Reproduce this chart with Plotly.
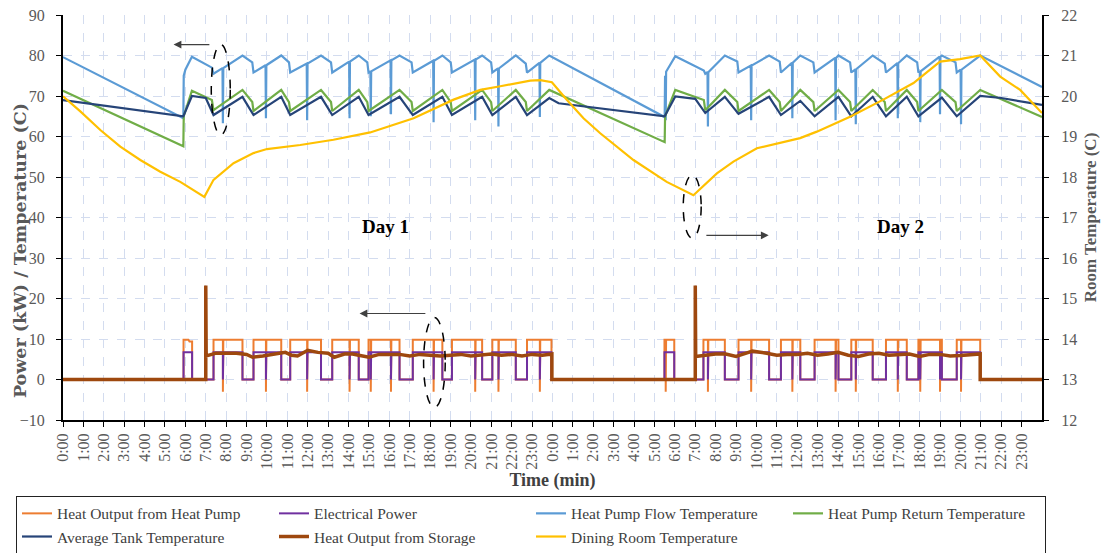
import plotly.graph_objects as go

# ---------------- data (hours since start of day 1, values) ----------------
HOUR_LABELS = ["0:00", "1:00", "2:00", "3:00", "4:00", "5:00", "6:00", "7:00",
               "8:00", "9:00", "10:00", "11:00", "12:00", "13:00", "14:00", "15:00",
               "16:00", "17:00", "18:00", "19:00", "20:00", "21:00", "22:00", "23:00"]
TICK_HOURS = list(range(48))
TICK_TEXT = HOUR_LABELS + HOUR_LABELS

HEAT_OUTPUT_HP = [
    (0, 0), (5.91, 0), (5.91, 9.8), (6.15, 9.8), (6.2, 9.4), (6.33, 9.4), (6.33, 0),
    (7.38, 0), (7.38, 9.8), (7.84, 9.8), (7.84, -3), (7.86, 9.8), (8.8, 9.8), (8.8, 0),
    (9.34, 0), (9.34, 9.8), (9.95, 9.8), (9.95, -3), (9.97, 9.8), (10.7, 9.8), (10.7, 0),
    (11.14, 0), (11.14, 9.8), (11.97, 9.8), (11.97, -3), (11.99, 9.8), (12.65, 9.8), (12.65, 0),
    (13.2, 0), (13.2, 9.8), (14.05, 9.8), (14.05, -3), (14.07, 9.8), (14.5, 9.8), (14.5, 0),
    (14.98, 0), (14.98, 9.8), (15.09, 9.8), (15.09, -3), (15.11, 9.8), (16.08, 9.8), (16.08, -3),
    (16.10, 9.8), (16.5, 9.8), (16.5, 0), (17.15, 0), (17.15, 9.8), (18.17, 9.8), (18.17, -3),
    (18.19, 9.8), (18.6, 9.8), (18.6, 0), (19.07, 0), (19.07, 9.8), (20.21, 9.8), (20.21, -3),
    (20.23, 9.8), (20.55, 9.8), (20.55, 0), (21.05, 0), (21.05, 9.8), (21.35, 9.8), (21.35, -3),
    (21.37, 9.8), (22.2, 9.8), (22.2, 0), (22.75, 0), (22.75, 9.8), (23.38, 9.8), (23.38, -3),
    (23.40, 9.8), (23.95, 9.8), (23.95, 0),
    (29.49, 0), (29.49, 9.8), (29.55, 9.8), (29.55, -3), (29.57, 9.8), (29.97, 9.8), (29.97, 0),
    (31.4, 0), (31.4, 9.8), (31.62, 9.8), (31.62, -3), (31.64, 9.8), (32.45, 9.8), (32.45, 0),
    (33.12, 0), (33.12, 9.8), (33.74, 9.8), (33.74, -3), (33.76, 9.8), (34.62, 9.8), (34.62, 0),
    (35.2, 0), (35.2, 9.8), (35.76, 9.8), (35.76, -3), (35.78, 9.8), (36.15, 9.8), (36.15, 0),
    (36.85, 0), (36.85, 9.8), (37.88, 9.8), (37.88, -3), (37.90, 9.8), (38.02, 9.8), (38.02, 0),
    (38.65, 0), (38.65, 9.8), (38.87, 9.8), (38.87, -3), (38.89, 9.8), (39.7, 9.8), (39.7, 0),
    (40.35, 0), (40.35, 9.8), (40.93, 9.8), (40.93, -3), (40.95, 9.8), (41.37, 9.8), (41.37, 0),
    (41.94, 0), (41.94, 9.8), (42.03, 9.8), (42.03, -3), (42.05, 9.8), (43.0, 9.8), (43.0, -3),
    (43.02, 9.8), (43.09, 9.8), (43.09, 0), (43.82, 0), (43.82, 9.8), (44.03, 9.8), (44.03, -3),
    (44.05, 9.8), (44.97, 9.8), (44.97, 0), (48, 0)]

ELECTRICAL_POWER = [
    (0, 0), (5.91, 0), (5.91, 6.7), (6.33, 6.7), (6.33, 0),
    (7.38, 0), (7.38, 6.7), (7.84, 6.7), (7.84, 0), (7.86, 6.7), (8.8, 6.7), (8.8, 0),
    (9.34, 0), (9.34, 6.7), (9.95, 6.7), (9.95, 0), (9.97, 6.7), (10.7, 6.7), (10.7, 0),
    (11.14, 0), (11.14, 6.7), (11.97, 6.7), (11.97, 0), (11.99, 6.7), (12.65, 6.7), (12.65, 0),
    (13.2, 0), (13.2, 6.7), (14.05, 6.7), (14.05, 0), (14.07, 6.7), (14.5, 6.7), (14.5, 0),
    (14.98, 0), (14.98, 6.7), (15.09, 6.7), (15.09, 0), (15.11, 6.7), (16.08, 6.7), (16.08, 0),
    (16.10, 6.7), (16.5, 6.7), (16.5, 0), (17.15, 0), (17.15, 6.7), (18.17, 6.7), (18.17, 0),
    (18.19, 6.7), (18.6, 6.7), (18.6, 0), (19.07, 0), (19.07, 6.7), (20.21, 6.7), (20.21, 0),
    (20.23, 6.7), (20.55, 6.7), (20.55, 0), (21.05, 0), (21.05, 6.7), (21.35, 6.7), (21.35, 0),
    (21.37, 6.7), (22.2, 6.7), (22.2, 0), (22.75, 0), (22.75, 6.7), (23.38, 6.7), (23.38, 0),
    (23.40, 6.7), (23.95, 6.7), (23.95, 0),
    (29.49, 0), (29.49, 6.7), (29.97, 6.7), (29.97, 0),
    (31.4, 0), (31.4, 6.7), (31.62, 6.7), (31.62, 0), (31.64, 6.7), (32.45, 6.7), (32.45, 0),
    (33.12, 0), (33.12, 6.7), (33.74, 6.7), (33.74, 0), (33.76, 6.7), (34.62, 6.7), (34.62, 0),
    (35.2, 0), (35.2, 6.7), (35.76, 6.7), (35.76, 0), (35.78, 6.7), (36.15, 6.7), (36.15, 0),
    (36.85, 0), (36.85, 6.7), (37.88, 6.7), (37.88, 0), (37.90, 6.7), (38.02, 6.7), (38.02, 0),
    (38.65, 0), (38.65, 6.7), (38.87, 6.7), (38.87, 0), (38.89, 6.7), (39.7, 6.7), (39.7, 0),
    (40.35, 0), (40.35, 6.7), (40.93, 6.7), (40.93, 0), (40.95, 6.7), (41.37, 6.7), (41.37, 0),
    (41.94, 0), (41.94, 6.7), (42.03, 6.7), (42.03, 0), (42.05, 6.7), (43.0, 6.7), (43.0, 0),
    (43.02, 6.7), (43.09, 6.7), (43.09, 0), (43.82, 0), (43.82, 6.7), (44.03, 6.7), (44.03, 0),
    (44.05, 6.7), (44.97, 6.7), (44.97, 0), (48, 0)]

FLOW_TEMP = [
    (0, 79.6), (5.9, 64.5), (5.92, 75.0), (6.0, 76.5), (6.32, 79.7), (7.3, 77.0), (7.38, 75.5),
    (7.82, 76.9), (7.84, 63.3), (7.86, 76.9), (8.8, 80.0), (9.28, 78.3), (9.34, 75.8),
    (9.93, 77.6), (9.95, 64.5), (9.97, 77.6), (10.7, 80.0), (11.08, 78.3), (11.14, 75.8),
    (11.95, 78.0), (11.97, 64.0), (11.99, 78.0), (12.65, 80.0), (13.14, 78.3), (13.2, 75.8),
    (14.03, 78.5), (14.05, 64.5), (14.07, 78.5), (14.5, 80.0), (14.92, 78.3), (14.98, 75.8),
    (15.07, 76.1), (15.09, 65.0), (15.11, 76.1), (16.06, 78.8), (16.08, 65.5), (16.10, 78.8),
    (16.5, 80.0), (17.09, 78.3), (17.15, 75.8), (18.15, 78.7), (18.17, 63.5), (18.19, 78.7),
    (18.6, 80.0), (19.01, 78.3), (19.07, 75.8), (20.19, 79.0), (20.21, 64.0), (20.23, 79.0),
    (20.55, 80.0), (20.99, 78.3), (21.05, 75.8), (21.33, 76.8), (21.35, 62.5), (21.37, 76.8),
    (22.2, 80.0), (22.69, 78.0), (22.75, 75.8), (23.36, 78.2), (23.38, 64.8), (23.40, 78.2),
    (23.84, 80.0),
    (29.5, 64.8), (29.52, 75.0), (29.55, 64.0), (29.57, 76.0), (30.02, 79.8), (31.42, 76.3),
    (31.49, 75.5), (31.60, 75.9), (31.62, 62.5), (31.64, 75.9), (32.45, 80.0), (33.06, 78.5),
    (33.12, 75.8), (33.72, 77.5), (33.74, 64.0), (33.76, 77.5), (34.62, 80.0), (35.14, 78.5),
    (35.2, 75.8), (35.74, 78.2), (35.76, 64.5), (35.78, 78.2), (36.15, 80.0), (36.79, 78.3),
    (36.85, 75.8), (37.86, 79.4), (37.88, 64.0), (37.90, 79.4), (38.02, 80.0), (38.59, 78.3),
    (38.65, 75.8), (38.85, 76.6), (38.87, 63.0), (38.89, 76.6), (39.7, 80.0), (40.29, 78.0),
    (40.35, 75.8), (40.91, 78.1), (40.93, 64.5), (40.95, 78.1), (41.37, 80.0), (41.88, 78.3),
    (41.94, 75.8), (42.01, 76.1), (42.03, 63.5), (42.05, 76.1), (42.98, 79.7), (43.0, 65.5),
    (43.02, 79.7), (43.09, 80.0), (43.76, 78.3), (43.82, 75.8), (44.01, 76.5), (44.03, 63.0),
    (44.05, 76.5), (44.97, 80.0), (48.0, 72.2)]

RETURN_TEMP = [
    (0, 71.3), (5.9, 57.6), (5.92, 65.0), (6.32, 71.3), (7.3, 69.0), (7.38, 66.5), (8.8, 71.5),
    (9.28, 68.5), (9.34, 66.3), (10.7, 71.5), (11.08, 68.5), (11.14, 66.3), (12.65, 71.5),
    (13.14, 68.5), (13.2, 66.3), (14.5, 71.5), (14.92, 68.5), (14.98, 66.3), (16.5, 71.5),
    (17.09, 68.5), (17.15, 66.3), (18.6, 71.5), (19.01, 68.5), (19.07, 66.3), (20.55, 71.5),
    (20.99, 68.5), (21.05, 66.3), (22.2, 71.5), (22.69, 68.5), (22.75, 66.3), (23.84, 71.5),
    (29.5, 58.6), (29.52, 65.0), (30.02, 71.5), (31.42, 69.0), (31.49, 66.5), (32.45, 71.5),
    (33.06, 68.5), (33.12, 66.3), (34.62, 71.5), (35.14, 68.5), (35.2, 66.3), (36.15, 71.5),
    (36.79, 68.5), (36.85, 66.3), (38.02, 71.5), (38.59, 68.5), (38.65, 66.3), (39.7, 71.5),
    (40.29, 68.5), (40.35, 66.3), (41.37, 71.5), (41.88, 68.5), (41.94, 66.3), (43.09, 71.5),
    (43.76, 68.5), (43.82, 66.3), (44.97, 71.5), (48.0, 64.8)]

TANK_TEMP = [
    (0, 69.0), (5.9, 65.0), (6.32, 70.0), (7.0, 69.5), (7.38, 65.3), (8.8, 69.8), (9.34, 65.3),
    (10.7, 69.8), (11.14, 65.3), (12.65, 69.8), (13.2, 65.3), (14.5, 69.8), (14.98, 65.3),
    (16.5, 69.8), (17.15, 65.3), (18.6, 69.8), (19.07, 65.3), (20.55, 69.8), (21.05, 65.3),
    (22.2, 69.8), (22.75, 65.3), (23.84, 69.5), (24.3, 68.2), (29.5, 65.0), (30.02, 69.9),
    (31.0, 69.3), (31.49, 65.8), (32.45, 69.8), (33.12, 65.6), (34.62, 69.8), (35.2, 65.3),
    (36.15, 68.8), (36.85, 65.0), (38.02, 69.8), (38.65, 65.0), (39.7, 69.8), (40.35, 65.0),
    (41.37, 69.8), (41.94, 65.0), (43.09, 69.6), (43.82, 65.0), (44.97, 70.0), (46.0, 69.5),
    (48.0, 67.8)]

STORAGE_OUTPUT = [
    (0, 0), (7.0, 0), (7.0, 23.2), (7.02, 5.8), (7.5, 6.5), (8.5, 6.5), (9.0, 6.2), (9.3, 5.5),
    (9.8, 5.8), (10.5, 6.5), (10.9, 6.7), (11.2, 6.0), (11.5, 5.8), (12.0, 7.2), (12.5, 6.7),
    (13.0, 6.5), (13.3, 5.5), (13.8, 6.3), (14.2, 6.3), (14.5, 6.0), (15.0, 5.5), (15.5, 6.2),
    (16.5, 6.2), (17.0, 5.8), (17.5, 6.2), (18.0, 6.0), (18.5, 5.8), (19.0, 6.0), (19.5, 6.2),
    (20.0, 5.8), (20.5, 6.0), (21.0, 6.3), (21.5, 6.0), (22.0, 6.2), (22.5, 5.8), (23.0, 6.2),
    (23.5, 6.0), (23.97, 6.3), (23.97, 0),
    (31.0, 0), (31.0, 23.2), (31.02, 5.7), (31.5, 6.0), (32.0, 6.3), (32.5, 6.3), (33.0, 5.7),
    (33.5, 6.5), (33.8, 7.0), (34.5, 6.5), (35.0, 6.0), (35.5, 6.2), (36.0, 6.2), (36.5, 6.5),
    (37.0, 6.0), (37.5, 6.3), (38.0, 6.7), (38.5, 6.0), (39.0, 5.7), (39.5, 6.3), (40.0, 6.5),
    (40.5, 6.0), (41.0, 6.2), (41.5, 6.3), (42.0, 5.7), (42.5, 6.2), (43.0, 6.2), (43.5, 5.8),
    (44.0, 5.9), (44.97, 6.3), (44.97, 0), (48, 0)]

# dining room temperature, degC (right axis)
DINING_TEMP = [
    (0, 19.99), (0.85, 19.62), (1.83, 19.16), (2.81, 18.75), (3.79, 18.42), (4.77, 18.13),
    (5.75, 17.88), (6.93, 17.51), (7.38, 17.93), (8.36, 18.34), (9.34, 18.59), (10.0, 18.69),
    (11.63, 18.79), (13.26, 18.92), (15.06, 19.10), (17.19, 19.45), (19.15, 19.91),
    (20.46, 20.15), (21.44, 20.24), (22.91, 20.38), (23.4, 20.39), (23.97, 20.34),
    (24.71, 19.90), (25.52, 19.45), (26.34, 19.08), (27.97, 18.42), (29.6, 17.88),
    (30.91, 17.55), (32.06, 18.09), (32.87, 18.38), (34.02, 18.71), (35.16, 18.85),
    (36.14, 18.96), (36.96, 19.12), (38.59, 19.49), (40.22, 19.91), (41.70, 20.32),
    (43.0, 20.85), (43.98, 20.91), (44.97, 21.0), (45.95, 20.48), (46.93, 20.15), (48.0, 19.58)]

SERIES = [
    ("Heat Output from Heat Pump", HEAT_OUTPUT_HP, "#ED7D31", 2.0, "y"),
    ("Electrical Power", ELECTRICAL_POWER, "#7030A0", 2.0, "y"),
    ("Heat Pump Flow Temperature", FLOW_TEMP, "#5B9BD5", 2.2, "y"),
    ("Heat Pump Return Temperature", RETURN_TEMP, "#70AD47", 2.2, "y"),
    ("Average Tank Temperature", TANK_TEMP, "#264478", 2.2, "y"),
    ("Heat Output from Storage", STORAGE_OUTPUT, "#9E480E", 3.5, "y"),
    ("Dining Room Temperature", DINING_TEMP, "#FFC000", 2.2, "y2"),
]

FONT = "Liberation Serif"
GRID = "#D3DCEF"

fig = go.Figure()
for name, pts, color, width, axis in SERIES:
    fig.add_trace(go.Scatter(
        x=[p[0] for p in pts], y=[p[1] for p in pts], name=name, mode="lines",
        line=dict(color=color, width=width), yaxis=axis))

# dashed ellipses
for x0, x1, y0, y1 in [(7.27, 8.2, 60.4, 82.7), (30.41, 31.29, 34.9, 50.5), (17.68, 18.74, -6.9, 15.3)]:
    fig.add_shape(type="circle", xref="x", yref="y", x0=x0, x1=x1, y0=y0, y1=y1,
                  line=dict(color="black", width=1.5, dash="dash"))

annotations = [
    dict(x=15.8, y=37.9, text="<b>Day 1</b>", showarrow=False,
         font=dict(family=FONT, size=19, color="black")),
    dict(x=41.05, y=37.9, text="<b>Day 2</b>", showarrow=False,
         font=dict(family=FONT, size=19, color="black")),
    # left axis title (placed below the axis centre as in the original)
    dict(xref="paper", yref="paper", x=-0.044, y=(419.4 - 250) / 404, xanchor="center",
         yanchor="middle", textangle=-90, showarrow=False,
         text="<b>Power (kW) / Temperature (C)</b>",
         font=dict(family="DejaVu Serif", size=17.5, color="#595959")),
]
for hx, hy, tx, ty in [(5.42, 82.7, 7.25, 82.7), (34.6, 35.6, 31.47, 35.6), (14.54, 16.3, 17.84, 16.3)]:
    annotations.append(dict(x=hx, y=hy, ax=tx, ay=ty, xref="x", yref="y", axref="x", ayref="y",
                            text="", showarrow=True, arrowhead=2, arrowsize=1.3,
                            arrowwidth=1.2, arrowcolor="#404040"))

fig.update_layout(
    width=1101, height=553,
    margin=dict(l=63, r=59, t=15, b=133, autoexpand=False),
    paper_bgcolor="white", plot_bgcolor="white",
    font=dict(family=FONT, size=15, color="#595959"),
    annotations=annotations,
    legend=dict(orientation="h", x=(16 - 63) / 979, xanchor="left",
                y=-(495 - 419.4) / 404, yanchor="top",
                bordercolor="#222222", borderwidth=1, bgcolor="white",
                font=dict(family=FONT, size=15.5, color="#404040"),
                entrywidth=212, entrywidthmode="pixels", traceorder="normal",
                tracegroupgap=0),
    xaxis=dict(range=[0, 48], tickmode="array", tickvals=TICK_HOURS, ticktext=TICK_TEXT,
               tickangle=-90, tickfont=dict(size=16, color="#595959"),
               showline=True, linecolor="black", linewidth=2, ticks="outside", ticklen=5,
               tickcolor="black", showgrid=True, gridcolor=GRID, griddash="dash", gridwidth=1,
               zeroline=False,
               title=dict(text="Time (min)", standoff=4,
                          font=dict(size=18, color="#404040", weight="bold"))),
    yaxis=dict(range=[-10, 90], dtick=10, tick0=0, tickfont=dict(size=16, color="#595959"),
               showline=True, linecolor="black", linewidth=2, ticks="outside", ticklen=5,
               tickcolor="black", showgrid=True, gridcolor=GRID, griddash="dash", gridwidth=1,
               zeroline=False, ticklabelstandoff=8),
    yaxis2=dict(range=[12, 22], dtick=1, tick0=12, overlaying="y", side="right",
                tickfont=dict(size=16, color="#595959"),
                showline=True, linecolor="black", linewidth=2, ticks="outside", ticklen=5,
                tickcolor="black", showgrid=False, zeroline=False, ticklabelstandoff=9,
                title=dict(text="Room Temperature (C)", standoff=8,
                           font=dict(size=17, color="#595959", weight="bold"))),
)

fig.write_html("out.html")
